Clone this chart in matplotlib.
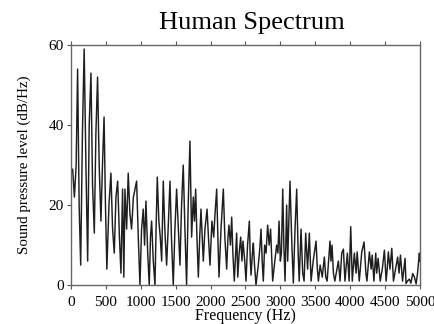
import matplotlib
matplotlib.use('Agg')
import matplotlib.pyplot as plt

# spectrum: peaks and troughs (Hz, dB/Hz)
freq_hz = [
    0, 25, 50, 75, 96, 118, 140, 165, 190, 215, 240, 262, 287, 310, 335, 358,
    382, 405, 430, 452, 475, 495, 515, 545, 573, 597, 621, 645, 670, 695, 717,
    740, 758, 774, 798, 821, 845, 869, 895, 941, 965, 989, 1012, 1036, 1055,
    1075, 1100, 1122, 1140, 1156, 1180, 1204, 1220, 1237, 1260, 1280, 1300,
    1323, 1345, 1371, 1395, 1419, 1440, 1466, 1490, 1514, 1540, 1562, 1585,
    1609, 1633, 1657, 1680, 1705, 1729, 1753, 1770, 1787, 1805, 1825, 1845,
    1863, 1880, 1896, 1920, 1950, 1970, 1992, 2020, 2045, 2065, 2088, 2105,
    2121, 2150, 2183, 2205, 2231, 2250, 2264, 2285, 2303, 2320, 2340, 2360,
    2374, 2390, 2410, 2432, 2450, 2465, 2490, 2508, 2530, 2556, 2570, 2580,
    2600, 2613, 2630, 2651, 2670, 2684, 2705, 2723, 2740, 2756, 2775, 2795,
    2818, 2840, 2860, 2890, 2920, 2947, 2965, 2981, 3000, 3015, 3034, 3050,
    3067, 3090, 3105, 3138, 3165, 3186, 3210, 3234, 3255, 3270, 3296, 3320,
    3340, 3363, 3390, 3415, 3440, 3470, 3511, 3530, 3545, 3570, 3600, 3630,
    3650, 3670, 3711, 3725, 3740, 3760, 3780, 3810, 3831, 3855, 3879, 3903,
    3925, 3960, 3985, 4008, 4030, 4060, 4085, 4100, 4130, 4166, 4199, 4225,
    4240, 4275, 4300, 4315, 4340, 4366, 4380, 4400, 4430, 4460, 4490, 4515,
    4530, 4547, 4570, 4596, 4620, 4650, 4680, 4700, 4720, 4750, 4786, 4800,
    4820, 4848, 4870, 4896, 4920, 4945, 4965, 4991, 5000,
]
level_db = [
    28, 29, 22, 30, 54, 20, 5, 38, 59, 30, 6, 40, 53, 25, 13, 38,
    52, 30, 16, 30, 42, 20, 4, 20, 28, 14, 8, 22, 26, 12, 3,
    24, 2, 24, 14, 28, 18, 14, 22, 26, 12, 0, 14, 19, 10,
    21, 8, 0, 12, 16, 6, 0, 14, 27, 16, 12, 6,
    26, 14, 5, 15, 26, 12, 0, 14, 24, 14, 5, 20,
    30, 14, 0, 20, 36, 12, 22, 16, 24, 12, 2, 12,
    19, 12, 6, 14, 19, 12, 5, 16, 12, 18, 24, 12,
    2, 14, 24, 12, 4, 12, 15, 10, 17, 8, 1, 8,
    13, 2, 8, 12, 6, 11, 6, 1, 10, 16, 6, 2.5,
    8, 10.5, 5, 0, 3, 5, 9, 14, 6, 1, 10, 8,
    15, 10, 14, 1, 6, 10, 8, 16, 6, 8, 24, 10,
    1, 20, 6, 26, 10, 0.5, 14, 24, 8, 1, 14, 3,
    1, 13, 4, 13, 1, 6, 11, 4, 1, 5, 2, 7,
    2, 1, 11, 6, 10, 3, 1, 4, 6, 1, 8, 9,
    1, 8, 1, 14.6, 1, 8, 3, 8.3, 1, 8.3, 10.8, 3,
    1, 8.3, 4, 7.5, 1, 8, 3, 6.7, 1, 4, 8.75, 1,
    4, 8.3, 4, 9.2, 1, 4, 7, 3, 7.5, 1, 6.7, 0.4,
    1, 1.5, 0.5, 2.9, 2, 0.3, 3, 8, 6,
]

x_ticks = [0, 500, 1000, 1500, 2000, 2500, 3000, 3500, 4000, 4500, 5000]
y_ticks = [0, 20, 40, 60]

plt.rcParams['font.family'] = ['Liberation Serif', 'DejaVu Serif']

fig = plt.figure(figsize=(4.35, 3.24), dpi=100)
ax = fig.add_axes([0.163, 0.120, 0.8025, 0.741])

ax.plot(freq_hz, level_db, color='#1e1e1e', linewidth=1.05)

ax.set_xlim(0, 5000)
ax.set_ylim(0, 60)
ax.set_xticks(x_ticks)
ax.set_yticks(y_ticks)
ax.tick_params(direction='out', length=3, width=0.8, color='#555555',
               labelsize=11, top=True, pad=2)
ax.tick_params(axis='x', pad=5)
for s in ax.spines.values():
    s.set_color('#666666')
    s.set_linewidth(1.0)

ax.set_xlabel('Frequency (Hz)', fontsize=11.5, labelpad=-1)
ax.set_ylabel('Sound pressure level (dB/Hz)', fontsize=10.8, labelpad=13)
fig.text(0.578, 0.91, 'Human Spectrum', fontsize=19, ha='center', va='baseline')

plt.savefig('out.png', dpi=100)
